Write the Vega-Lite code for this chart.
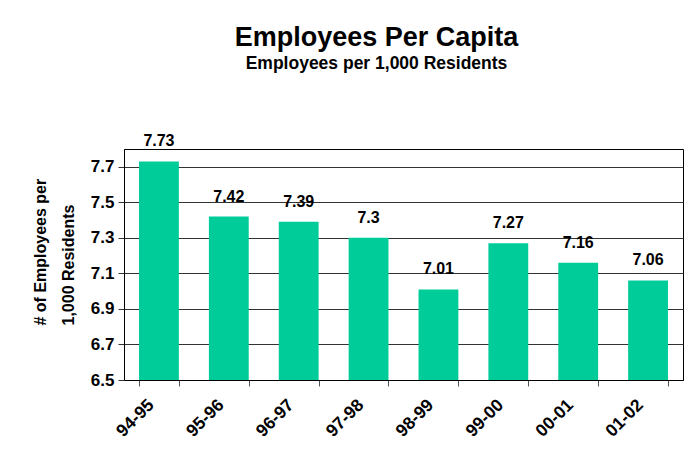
{
  "$schema": "https://vega.github.io/schema/vega-lite/v6.json",
  "autosize": "none",
  "width": 559,
  "height": 231,
  "padding": {"left": 124, "top": 149, "right": 6, "bottom": 86},
  "background": "white",
  "title": {
    "text": "Employees Per Capita",
    "subtitle": "Employees per 1,000 Residents",
    "frame": "group",
    "anchor": "middle",
    "dx": -27,
    "offset": 60,
    "font": "Liberation Sans",
    "fontSize": 27,
    "fontWeight": "bold",
    "color": "#000",
    "subtitleFont": "Liberation Sans",
    "subtitleFontSize": 17.5,
    "subtitleFontWeight": "bold",
    "subtitleColor": "#000",
    "subtitlePadding": 3
  },
  "data": {
    "values": [
      {"year": "94-95", "value": 7.73},
      {"year": "95-96", "value": 7.42},
      {"year": "96-97", "value": 7.39},
      {"year": "97-98", "value": 7.3},
      {"year": "98-99", "value": 7.01},
      {"year": "99-00", "value": 7.27},
      {"year": "00-01", "value": 7.16},
      {"year": "01-02", "value": 7.06}
    ]
  },
  "encoding": {
    "x": {
      "field": "year",
      "type": "nominal",
      "sort": null,
      "scale": {"paddingInner": 0.43, "paddingOuter": 0.215},
      "axis": {
        "title": null,
        "labelAngle": -45,
        "labelAlign": "right",
        "labelBaseline": "middle",
        "labelPadding": 16,
        "labelOffset": -8,
        "labelFont": "Liberation Sans",
        "labelFontSize": 17.5,
        "labelFontWeight": "bold",
        "labelColor": "#000",
        "tickBand": "extent",
        "tickSize": 6,
        "tickColor": "#555",
        "domainColor": "#000",
        "grid": false
      }
    },
    "y": {
      "field": "value",
      "type": "quantitative",
      "scale": {"domain": [6.5, 7.8], "nice": false, "zero": false},
      "axis": {
        "values": [6.5, 6.7, 6.9, 7.1, 7.3, 7.5, 7.7],
        "format": ".1f",
        "title": ["# of  Employees per", "1,000 Residents"],
        "titleFont": "Liberation Sans",
        "titleFontSize": 16,
        "titleFontWeight": "bold",
        "titleColor": "#000",
        "titleAngle": -90,
        "titleAlign": "left",
        "titleBaseline": "top",
        "titleLineHeight": 28,
        "titleX": -92,
        "titleY": 176,
        "labelFont": "Liberation Sans",
        "labelFontSize": 17,
        "labelFontWeight": "bold",
        "labelColor": "#000",
        "labelPadding": 4,
        "tickSize": 6,
        "tickColor": "#333",
        "domainColor": "#000",
        "grid": true,
        "gridColor": "#333",
        "gridWidth": 1
      }
    }
  },
  "layer": [
    {"mark": {"type": "bar", "color": "#00CC99", "clip": true}},
    {
      "mark": {
        "type": "text",
        "baseline": "alphabetic",
        "dy": -15,
        "font": "Liberation Sans",
        "fontSize": 16,
        "fontWeight": "bold",
        "color": "#000"
      },
      "encoding": {"text": {"field": "value", "type": "quantitative"}}
    }
  ],
  "config": {
    "view": {"stroke": "#000", "strokeWidth": 1}
  }
}
